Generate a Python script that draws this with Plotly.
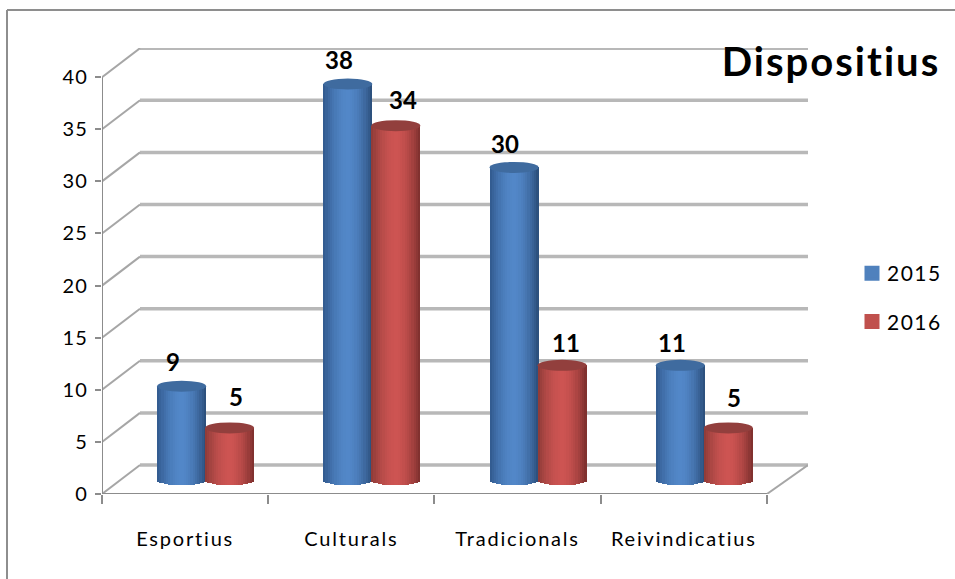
import plotly.graph_objects as go

categories = ["Esportius", "Culturals", "Tradicionals", "Reivindicatius"]
series_2015 = [9, 38, 30, 11]
series_2016 = [5, 34, 11, 5]
y_ticks = [0, 5, 10, 15, 20, 25, 30, 35, 40]

# style / geometry constants
PX_X = 166.25
PX_Y = 10.42
DEPTH_Y = 29 / PX_Y
LEFT_DX = 38 / PX_X
X0, X_AXIS_END, X_MAX = -0.5, 3.5, 3.747
Y_MAX = 42.8
BASE = 14 / PX_Y
HALF_H = 5.5 / PX_Y
BAR_W = 49 / PX_X
GROUP_SHIFT = 20.5 / PX_X
STEP = 48 / PX_X
N = 22
FONT = "Lato"

def lerp(c1, c2, t):
    return "rgb(%d,%d,%d)" % tuple(round(a + (b - a) * t) for a, b in zip(c1, c2))

def shade(t, edgeL, mid, edgeR):
    if t < 0:
        return lerp(mid, edgeL, min(1, abs(t) ** 1.8))
    return lerp(mid, edgeR, min(1, t ** 1.8))

styles = {
    "2015": dict(vals=series_2015, off=-STEP / 2, legend="#4F81BD", edgeL=(48, 88, 140), mid=(82, 135, 200),
                 edgeR=(42, 76, 120), top="#3F6B9F"),
    "2016": dict(vals=series_2016, off=STEP / 2, legend="#C0504D", edgeL=(140, 58, 55), mid=(205, 84, 82),
                 edgeR=(122, 46, 44), top="#923F3D"),
}

fig = go.Figure()
shapes = []
grid = "#B8B8B8"
diag = "#A6A6A6"
for v in y_ticks:
    shapes.append(dict(type="line", xref="x", yref="y", layer="below", x0=X0 + LEFT_DX, x1=X_MAX,
                       y0=v + DEPTH_Y, y1=v + DEPTH_Y, line=dict(color=grid, width=3.5)))
    shapes.append(dict(type="line", xref="x", yref="y", layer="below", x0=X0, x1=X0 + LEFT_DX,
                       y0=v, y1=v + DEPTH_Y, line=dict(color=diag, width=2)))
shapes.append(dict(type="line", xref="x", yref="y", layer="below", x0=X_AXIS_END, x1=X_MAX,
                   y0=0, y1=DEPTH_Y, line=dict(color=diag, width=2)))

annotations = []
label_nudge = {
    "2015": [(-9, 9), (-9, 9), (-9, 8), (-8, 7)],
    "2016": [(6, 15), (7, 10), (4, 7), (6, 14)],
}
for name, s in styles.items():
    xs = [i + GROUP_SHIFT + s["off"] for i in range(len(categories))]
    tops = [BASE + v for v in s["vals"]]
    # legend-only entry carries the swatch
    fig.add_trace(go.Bar(x=[None], y=[None], width=BAR_W, name=name,
                         marker=dict(color=s["legend"], line=dict(color=s["legend"], width=3)),
                         legendgroup=name, hoverinfo="skip"))
    for k in range(N):
        t = -1 + (2 * k + 1) / N
        w = BAR_W / N
        drop = HALF_H * (1 - t * t) ** 0.5
        fig.add_trace(go.Bar(
            x=[x + t * BAR_W / 2 for x in xs],
            y=[v + drop for v in s["vals"]],
            base=[BASE - drop] * 4,
            width=w * 1.08,
            marker=dict(color=shade(t, s["edgeL"], s["mid"], s["edgeR"]), line_width=0),
            showlegend=False, legendgroup=name, hoverinfo="skip"))
    for x, top, v, (nx, ny) in zip(xs, tops, s["vals"], label_nudge[name]):
        shapes.append(dict(type="circle", xref="x", yref="y", layer="above",
                           x0=x - BAR_W / 2, x1=x + BAR_W / 2, y0=top - HALF_H, y1=top + HALF_H,
                           fillcolor=s["top"], line=dict(color=s["top"], width=0)))
        annotations.append(dict(x=x, y=top, xref="x", yref="y", text="<b>%d</b>" % v, showarrow=False,
                                xshift=nx, yshift=ny + 16, font=dict(family=FONT, size=24, color="black")))

# axis lines as traces so they are not clipped
fig.add_trace(go.Scatter(x=[X0, X_AXIS_END], y=[0, 0], mode="lines", line=dict(color="#8C8C8C", width=2),
                         showlegend=False, cliponaxis=False, hoverinfo="skip"))
fig.add_trace(go.Scatter(x=[X0, X0], y=[0, y_ticks[-1]], mode="lines", line=dict(color="#8C8C8C", width=2),
                         showlegend=False, cliponaxis=False, hoverinfo="skip"))

# outer frame, in paper coords
paper_w, plot_h = 955 - 102 - 5, 579 - 48 - 85
fx = lambda px: (px - 102) / paper_w
fy = lambda py: (494 - py) / plot_h
shapes.append(dict(type="line", xref="paper", yref="paper", x0=fx(7), x1=fx(955), y0=fy(10), y1=fy(10),
                   line=dict(color="#8E8E8E", width=2)))
shapes.append(dict(type="line", xref="paper", yref="paper", x0=fx(7), x1=fx(7), y0=fy(10), y1=fy(579),
                   line=dict(color="#8E8E8E", width=2)))

fig.update_layout(
    width=955, height=579, margin=dict(l=102, r=5, t=48, b=85),
    paper_bgcolor="white", plot_bgcolor="rgba(0,0,0,0)", barmode="overlay", bargap=0,
    font=dict(family=FONT, size=20, color="black"),
    title=dict(text="<b>Dispositius</b>", x=831 / 955, y=1 - 62 / 579, xanchor="center", yanchor="middle",
               xref="container", yref="container", font=dict(family=FONT, size=40, color="black")),
    xaxis=dict(domain=[0, 706 / paper_w], range=[X0, X_MAX], tickmode="array",
               tickvals=list(range(len(categories))), ticktext=categories,
               ticks="outside", ticklen=27, tickcolor="rgba(0,0,0,0)", showgrid=False, zeroline=False, showline=False,
               tickfont=dict(family=FONT, size=20),
               minor=dict(tickmode="array", tickvals=[X0 + i for i in range(5)], ticks="outside", ticklen=9,
                          tickcolor="#8C8C8C", tickwidth=2, showgrid=False)),
    yaxis=dict(range=[0, Y_MAX], tickmode="array", tickvals=y_ticks, ticks="outside", ticklen=6, tickcolor="#8C8C8C",
               tickwidth=2, showgrid=False, zeroline=False, showline=False, ticklabelstandoff=3,
               tickfont=dict(family=FONT, size=20)),
    legend=dict(x=fx(852), y=fy(253), xanchor="left", yanchor="top", tracegroupgap=18,
                font=dict(family=FONT, size=21), bgcolor="rgba(0,0,0,0)"),
    shapes=shapes, annotations=annotations,
)
css = (".xtick text{letter-spacing:1.8px}"
       ".ytick text{letter-spacing:1.2px}"
       ".legendtext{letter-spacing:1.5px;transform:translateX(-5px)}"
       ".gtitle{letter-spacing:2px}")
fig.write_html(
    "out.html",
    config={"displayModeBar": False},
    post_script="document.body.style.margin='0';document.documentElement.style.overflow='hidden';"
                "var s=document.createElement('style');s.textContent=%r;document.head.appendChild(s);" % css,
)
